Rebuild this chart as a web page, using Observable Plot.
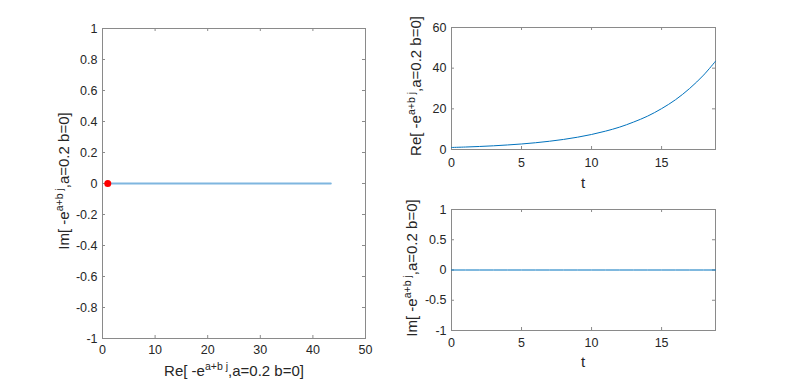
<!DOCTYPE html>
<html><head><meta charset="utf-8">
<script src="https://cdn.jsdelivr.net/npm/d3@7"></script>
<script src="https://cdn.jsdelivr.net/npm/@observablehq/plot@0.6"></script>
<style>
body{margin:0;background:#fff;}
#fig{position:relative;width:790px;height:380px;background:#fff;overflow:hidden;}
#fig svg{position:absolute;}
</style></head><body><div id="fig"></div>
<script>
// ---- data ----
const tValues  = [0, 1, 2, 3, 4, 5, 6, 7, 8, 9, 10, 11, 12, 13, 14, 15, 16, 17, 18, 18.85];
const reValues = [1.00, 1.22, 1.49, 1.82, 2.23, 2.72, 3.32, 4.06, 4.95, 6.05, 7.39, 9.03, 11.0, 13.5, 16.4, 20.1, 24.5, 30.0, 36.6, 43.4];
const imValues = [0, 0, 0, 0, 0, 0, 0, 0, 0, 0, 0, 0, 0, 0, 0, 0, 0, 0, 0, 0];
const startRe = [1];
const startIm = [0];

const leftXTicks = [0, 10, 20, 30, 40, 50];
const leftYTicks = [-1, -0.8, -0.6, -0.4, -0.2, 0, 0.2, 0.4, 0.6, 0.8, 1];
const tTicks = [0, 5, 10, 15];
const reTicks = [0, 20, 40, 60];
const imTicks = [-1, -0.5, 0, 0.5, 1];
const tDomain = [0, 18.85];

const reLabel = ["Re[ -e", "a+b j", ",a=0.2 b=0]"];
const imLabel = ["Im[ -e", "a+b j", ",a=0.2 b=0]"];
const tLabel = "t";

const FONT = "'Liberation Sans', Arial, Helvetica, sans-serif";
const TEXT = "#262626";
const BOX = "#8a8a8a";
const fmt = d => String(d);

const points = tValues.map((t, i) => ({t, re: reValues[i], im: imValues[i]}));
const start = startRe.map((r, i) => ({re: r, im: startIm[i]}));

function boxMarks(xTicks, yTicks, innerW, innerH, xPad, yPad) {
  return [
    Plot.tickX(xTicks, {x: d => d, insetTop: innerH - 3, stroke: BOX}),
    Plot.tickX(xTicks, {x: d => d, insetBottom: innerH - 3, stroke: BOX}),
    Plot.tickY(yTicks, {y: d => d, insetRight: innerW - 3, stroke: BOX}),
    Plot.tickY(yTicks, {y: d => d, insetLeft: innerW - 3, stroke: BOX}),
    Plot.frame({stroke: BOX}),
    Plot.axisX(xTicks, {anchor: "bottom", tickSize: 0, tickPadding: xPad, tickFormat: fmt, label: null}),
    Plot.axisY(yTicks, {anchor: "left", tickSize: 0, tickPadding: yPad, tickFormat: fmt, label: null})
  ];
}

function addLabel(svg, parts, x, y, rotate) {
  const g = d3.select(svg).append("text")
    .attr("transform", `translate(${x},${y})` + (rotate ? " rotate(-90)" : ""))
    .attr("text-anchor", "middle")
    .attr("fill", TEXT)
    .attr("font-family", FONT)
    .attr("font-size", 15);
  if (typeof parts === "string") { g.text(parts); return; }
  g.append("tspan").text(parts[0]);
  g.append("tspan").attr("font-size", 10.5).attr("dy", -6).text(parts[1]);
  g.append("tspan").attr("dy", 6).text(parts[2]);
}

const style = {fontSize: "12.5px", fontFamily: FONT, color: TEXT, background: "transparent", overflow: "visible"};
const fig = document.getElementById("fig");

// ---- left: complex plane ----
{
  const W = 395, H = 380, mL = 102, mR = 30, mT = 28, mB = 42;
  const p = Plot.plot({
    width: W, height: H, marginLeft: mL, marginRight: mR, marginTop: mT, marginBottom: mB,
    style,
    x: {domain: [0, 50]},
    y: {domain: [-1, 1]},
    marks: [
      ...boxMarks(leftXTicks, leftYTicks, W - mL - mR, H - mT - mB, 7, 5),
      Plot.line(points, {x: "re", y: "im", stroke: "#7fb6df", strokeWidth: 2}),
      Plot.dot(start, {x: "re", y: "im", r: 3.5, fill: "#ff0000", stroke: "none"})
    ]
  });
  p.style.left = "0px"; p.style.top = "0px";
  fig.appendChild(p);
  addLabel(p, reLabel, 234, 376, false);
  addLabel(p, imLabel, 69, 181, true);
}

// ---- top right: real part vs t ----
{
  const W = 395, H = 190, mL = 56, mR = 75, mT = 27, mB = 41;
  const p = Plot.plot({
    width: W, height: H, marginLeft: mL, marginRight: mR, marginTop: mT, marginBottom: mB,
    style,
    x: {domain: tDomain},
    y: {domain: [0, 60]},
    marks: [
      ...boxMarks(tTicks, reTicks, W - mL - mR, H - mT - mB, 9, 5),
      Plot.line(points, {x: "t", y: "re", stroke: "#0072bd", strokeWidth: 1, curve: "catmull-rom"})
    ]
  });
  p.style.left = "395px"; p.style.top = "0px";
  fig.appendChild(p);
  addLabel(p, tLabel, 188, 188, false);
  addLabel(p, reLabel, 26, 86, true);
}

// ---- bottom right: imaginary part vs t ----
{
  const W = 395, H = 190, mL = 56, mR = 75, mT = 19, mB = 50;
  const p = Plot.plot({
    width: W, height: H, marginLeft: mL, marginRight: mR, marginTop: mT, marginBottom: mB,
    style,
    x: {domain: tDomain},
    y: {domain: [-1, 1]},
    marks: [
      ...boxMarks(tTicks, imTicks, W - mL - mR, H - mT - mB, 8, 5),
      Plot.line(points, {x: "t", y: "im", stroke: "#0072bd", strokeWidth: 1})
    ]
  });
  p.style.left = "395px"; p.style.top = "190px";
  fig.appendChild(p);
  addLabel(p, tLabel, 188, 177, false);
  addLabel(p, imLabel, 22, 78, true);
}
</script></body></html>
